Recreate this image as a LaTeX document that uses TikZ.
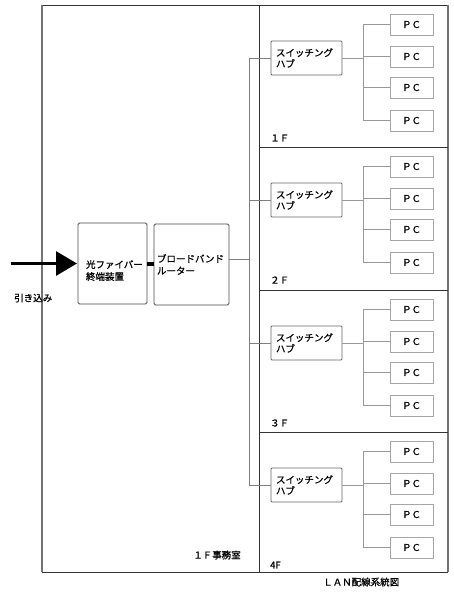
\documentclass[tikz,border=0pt]{standalone}
\usepackage{fontspec}
\setmainfont{Noto Sans CJK JP}[FakeBold=0.9]
\usetikzlibrary{arrows.meta}
\begin{document}
\begin{tikzpicture}[x=1pt,y=-1pt,
  font=\fontsize{9.5}{12}\selectfont,
  frame/.style={draw=black!80, line width=0.9pt},
  sideframe/.style={draw=black!55, line width=1.4pt},
  dev/.style={draw=black!70, line width=0.9pt, rounded corners=1.5pt, anchor=north west, outer sep=0pt, align=left, inner ysep=0pt},
  hubbox/.style={draw=black!60, line width=0.8pt, rounded corners=1pt, anchor=north west, outer sep=0pt, align=left, minimum width=71pt, minimum height=34pt, text width=61pt, inner xsep=5pt, inner ysep=0pt, font=\fontsize{9.5}{11}\selectfont},
  pcbox/.style={draw=black!35, line width=0.7pt, anchor=north west, outer sep=0pt, minimum width=43pt, minimum height=21pt, inner sep=0pt},
  wire/.style={draw=black!40, line width=0.6pt},
  trunk/.style={draw=black!50, line width=0.7pt},
  lbl/.style={anchor=west, inner sep=0pt}]
\useasboundingbox (0,0) rectangle (454,600);
\fill[white] (0,0) rectangle (454,600);

% outer frame and floor partitions
\draw[frame] (42,5) -- (448,5);
\draw[frame] (42,572) -- (448,572);
\draw[sideframe] (42,5) -- (42,572);
\draw[sideframe] (448,5) -- (448,572);
\draw[frame] (259,5) -- (259,572);
\foreach \yy in {147,290,432} \draw[frame] (259,\yy) -- (448,\yy);

% floors
\foreach \f/\ty/\lab in {1/5/１Ｆ, 2/147/２Ｆ, 3/290/３Ｆ, 4/432/4F} {
  \node[hubbox] (hub\f) at (271,\ty+36) {スイッチング\\ハブ};
  \foreach \p/\o in {1/9,2/41,3/72,4/105}
    \node[pcbox] (pc\f\p) at (390,\ty+\o) {ＰＣ};
  \coordinate (br\f) at (363,\ty+53);
  \draw[wire] (hub\f.east) -- (br\f);
  \draw[wire] (br\f |- pc\f1.west) -- (br\f |- pc\f4.west);
  \foreach \p in {1,...,4}
    \draw[wire] (br\f |- pc\f\p.west) -- (pc\f\p.west);
  \node[lbl] (fl\f) at (270,\ty+133) {\lab};
}

% devices
\node[dev, minimum width=69pt, minimum height=81pt, text width=53pt, inner xsep=8pt] (fiber) at (78,223) {\mbox{}\\[10pt]光ファイバー\\終端装置};
\node[dev, minimum width=75pt, minimum height=81pt, text width=69pt, inner xsep=3pt] (router) at (154,224) {ブロードバンド\\ルーター};

% incoming line
\coordinate (src) at (11,263.5);
\draw[line width=3pt, -{Triangle[length=21pt,width=24pt]}] (src) -- ([xshift=-1pt]fiber.west);
\draw[line width=4pt] (fiber.east) -- (fiber.east -| router.west);

% trunk
\coordinate (trk) at (249,0);
\coordinate (rj) at (249,259);
\draw[trunk] (hub1.west) -- (hub1.west -| trk) -- (hub4.west -| trk) -- (hub4.west);
\draw[trunk] (hub2.west) -- (hub2.west -| trk);
\draw[trunk] (hub3.west) -- (hub3.west -| trk);
\draw[trunk] (router.east |- rj) -- (rj);

% labels
\node[lbl] (hikikomi) at (14,298) {引き込み};
\node[lbl] (office) at (193,555) {１Ｆ事務室};
\node[lbl] (title) at (323,582) {ＬＡＮ配線系統図};
\end{tikzpicture}
\end{document}
